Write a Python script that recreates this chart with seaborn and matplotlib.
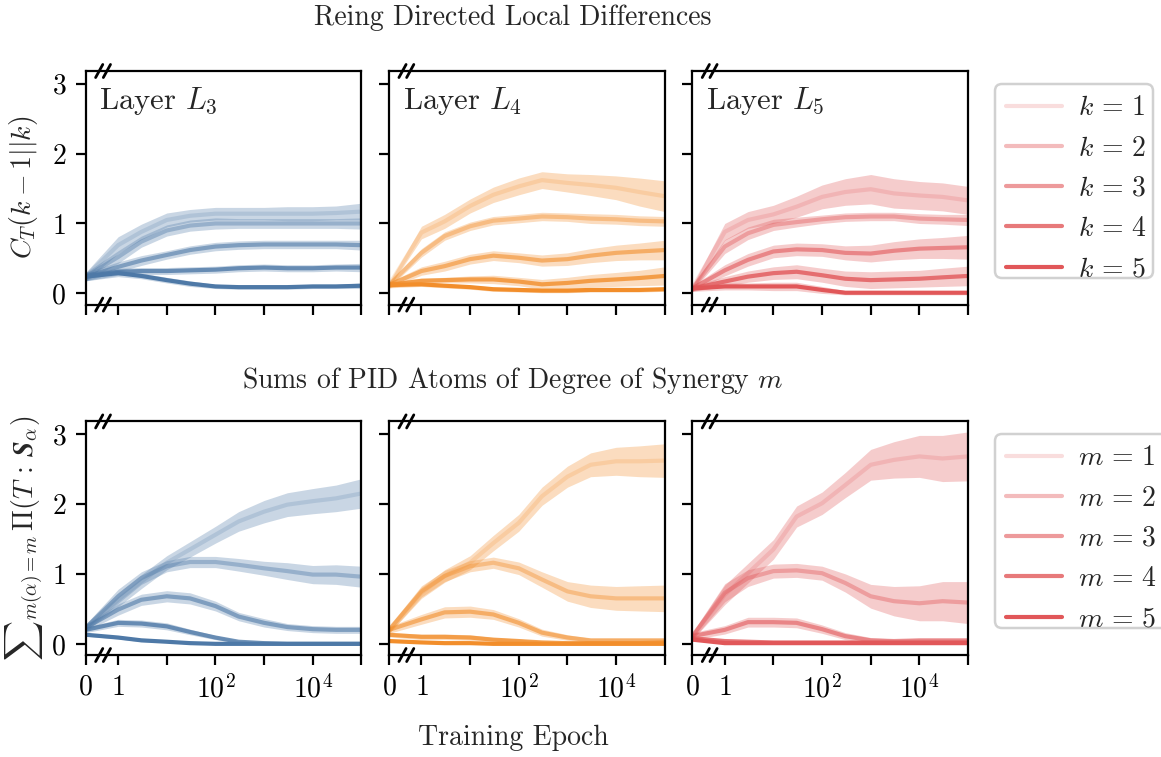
import numpy as np
import matplotlib
matplotlib.use("Agg")
import matplotlib.pyplot as plt
from matplotlib.lines import Line2D
from matplotlib.patches import FancyBboxPatch
import seaborn as sns

# --- DATA ---
EPOCHS = [0, 1, 3, 10, 30, 100, 300, 1000, 3000, 10000, 30000, 100000]
LAYERS = ["L_3", "L_4", "L_5"]
COLORS = ["#4e79a7", "#f28e2b", "#e15759"]
ALPHAS = [0.2, 0.4, 0.6, 0.8, 1.0]
X_TICKS = [0, 1, 10, 100, 1000, 10000, 100000]
X_TICK_LABELS = ["$0$", "$1$", "", "$10^2$", "", "$10^4$", ""]
Y_TICKS = [0, 1, 2, 3]

# top row: C_T(k-1||k), k = 1..5, per layer
reing_L3 = [
    [0.24, 0.69, 0.88, 1.05, 1.11, 1.14, 1.14, 1.14, 1.14, 1.14, 1.15, 1.17],
    [0.24, 0.52, 0.74, 0.90, 0.97, 1.00, 1.00, 1.00, 1.00, 1.00, 1.00, 1.00],
    [0.24, 0.38, 0.47, 0.55, 0.62, 0.67, 0.69, 0.70, 0.70, 0.70, 0.70, 0.69],
    [0.24, 0.31, 0.32, 0.32, 0.33, 0.34, 0.36, 0.37, 0.36, 0.36, 0.37, 0.37],
    [0.24, 0.29, 0.25, 0.19, 0.14, 0.10, 0.09, 0.09, 0.09, 0.10, 0.10, 0.11],
]
reing_L3_err = [
    [0.06, 0.12, 0.11, 0.10, 0.09, 0.09, 0.09, 0.09, 0.10, 0.10, 0.10, 0.12],
    [0.06, 0.09, 0.08, 0.08, 0.08, 0.08, 0.07, 0.07, 0.07, 0.07, 0.07, 0.08],
    [0.06, 0.07, 0.07, 0.06, 0.06, 0.06, 0.06, 0.06, 0.06, 0.06, 0.06, 0.07],
    [0.06, 0.05, 0.05, 0.05, 0.05, 0.05, 0.05, 0.05, 0.05, 0.05, 0.05, 0.06],
    [0.06, 0.05, 0.04, 0.04, 0.04, 0.03, 0.03, 0.03, 0.03, 0.03, 0.03, 0.04],
]
reing_L4 = [
    [0.12, 0.87, 1.03, 1.25, 1.41, 1.53, 1.62, 1.58, 1.55, 1.51, 1.45, 1.39],
    [0.12, 0.58, 0.82, 0.96, 1.04, 1.07, 1.10, 1.09, 1.07, 1.06, 1.04, 1.03],
    [0.12, 0.32, 0.39, 0.49, 0.54, 0.51, 0.47, 0.49, 0.54, 0.58, 0.60, 0.62],
    [0.12, 0.18, 0.19, 0.20, 0.20, 0.17, 0.13, 0.15, 0.18, 0.20, 0.22, 0.25],
    [0.12, 0.13, 0.11, 0.09, 0.06, 0.05, 0.04, 0.04, 0.05, 0.05, 0.05, 0.06],
]
reing_L4_err = [
    [0.04, 0.09, 0.10, 0.10, 0.11, 0.12, 0.12, 0.13, 0.15, 0.17, 0.20, 0.22],
    [0.04, 0.06, 0.06, 0.06, 0.06, 0.06, 0.06, 0.06, 0.07, 0.07, 0.07, 0.07],
    [0.04, 0.06, 0.07, 0.07, 0.07, 0.07, 0.08, 0.09, 0.10, 0.11, 0.12, 0.14],
    [0.04, 0.04, 0.04, 0.05, 0.06, 0.06, 0.07, 0.08, 0.09, 0.10, 0.11, 0.13],
    [0.04, 0.03, 0.03, 0.03, 0.03, 0.03, 0.03, 0.03, 0.03, 0.03, 0.03, 0.03],
]
reing_L5 = [
    [0.07, 0.88, 1.05, 1.13, 1.24, 1.38, 1.45, 1.49, 1.43, 1.40, 1.38, 1.33],
    [0.07, 0.67, 0.86, 0.98, 1.02, 1.06, 1.09, 1.10, 1.10, 1.07, 1.06, 1.05],
    [0.07, 0.33, 0.48, 0.60, 0.63, 0.62, 0.58, 0.57, 0.61, 0.64, 0.65, 0.66],
    [0.07, 0.17, 0.24, 0.29, 0.31, 0.26, 0.21, 0.19, 0.20, 0.21, 0.23, 0.25],
    [0.07, 0.10, 0.10, 0.10, 0.10, 0.05, 0.01, 0.01, 0.01, 0.01, 0.01, 0.01],
]
reing_L5_err = [
    [0.04, 0.12, 0.12, 0.13, 0.15, 0.17, 0.19, 0.21, 0.21, 0.20, 0.20, 0.20],
    [0.04, 0.10, 0.09, 0.08, 0.07, 0.06, 0.06, 0.06, 0.06, 0.07, 0.07, 0.08],
    [0.04, 0.08, 0.09, 0.09, 0.09, 0.09, 0.10, 0.12, 0.13, 0.14, 0.15, 0.17],
    [0.04, 0.07, 0.08, 0.09, 0.10, 0.10, 0.11, 0.12, 0.12, 0.12, 0.13, 0.14],
    [0.04, 0.05, 0.05, 0.06, 0.06, 0.05, 0.03, 0.03, 0.03, 0.03, 0.03, 0.03],
]

# bottom row: sums of PID atoms of degree of synergy m = 1..5
pid_L3 = [
    [0.23, 0.63, 0.89, 1.16, 1.35, 1.56, 1.75, 1.89, 1.99, 2.04, 2.08, 2.15],
    [0.23, 0.68, 0.94, 1.11, 1.17, 1.17, 1.13, 1.08, 1.04, 0.99, 0.99, 0.96],
    [0.23, 0.49, 0.63, 0.68, 0.65, 0.54, 0.39, 0.30, 0.24, 0.21, 0.20, 0.20],
    [0.20, 0.30, 0.29, 0.25, 0.17, 0.09, 0.03, 0.01, 0.00, 0.00, 0.00, 0.00],
    [0.13, 0.09, 0.05, 0.03, 0.01, 0.00, 0.00, 0.00, 0.00, 0.00, 0.00, 0.00],
]
pid_L3_err = [
    [0.05, 0.10, 0.10, 0.10, 0.11, 0.12, 0.14, 0.16, 0.17, 0.18, 0.19, 0.21],
    [0.05, 0.10, 0.09, 0.08, 0.08, 0.08, 0.09, 0.10, 0.12, 0.13, 0.14, 0.15],
    [0.05, 0.08, 0.08, 0.08, 0.08, 0.07, 0.06, 0.06, 0.05, 0.05, 0.05, 0.05],
    [0.04, 0.05, 0.05, 0.05, 0.04, 0.03, 0.02, 0.01, 0.01, 0.01, 0.01, 0.01],
    [0.02, 0.02, 0.02, 0.01, 0.01, 0.01, 0.01, 0.01, 0.01, 0.01, 0.01, 0.01],
]
pid_L4 = [
    [0.20, 0.73, 0.97, 1.16, 1.44, 1.73, 2.11, 2.39, 2.56, 2.61, 2.61, 2.62],
    [0.20, 0.75, 0.97, 1.11, 1.16, 1.08, 0.92, 0.75, 0.68, 0.65, 0.65, 0.65],
    [0.20, 0.35, 0.45, 0.46, 0.42, 0.30, 0.16, 0.09, 0.05, 0.05, 0.05, 0.05],
    [0.13, 0.10, 0.10, 0.09, 0.06, 0.04, 0.02, 0.01, 0.01, 0.01, 0.01, 0.02],
    [0.04, 0.02, 0.01, 0.01, 0.00, 0.00, 0.00, 0.00, 0.00, 0.00, 0.00, 0.00],
]
pid_L4_err = [
    [0.05, 0.08, 0.09, 0.10, 0.11, 0.12, 0.13, 0.15, 0.17, 0.20, 0.22, 0.24],
    [0.05, 0.08, 0.08, 0.08, 0.08, 0.09, 0.11, 0.14, 0.16, 0.17, 0.18, 0.19],
    [0.05, 0.07, 0.08, 0.08, 0.07, 0.06, 0.05, 0.04, 0.03, 0.03, 0.03, 0.03],
    [0.03, 0.04, 0.04, 0.04, 0.03, 0.03, 0.02, 0.02, 0.02, 0.02, 0.02, 0.02],
    [0.01, 0.01, 0.01, 0.01, 0.01, 0.01, 0.01, 0.01, 0.01, 0.01, 0.01, 0.01],
]
pid_L5 = [
    [0.11, 0.70, 1.01, 1.35, 1.82, 2.01, 2.27, 2.56, 2.63, 2.68, 2.65, 2.68],
    [0.11, 0.73, 0.94, 1.04, 1.05, 1.01, 0.87, 0.68, 0.61, 0.58, 0.61, 0.59],
    [0.11, 0.20, 0.31, 0.31, 0.30, 0.21, 0.11, 0.05, 0.04, 0.05, 0.05, 0.05],
    [0.08, 0.04, 0.03, 0.02, 0.02, 0.02, 0.02, 0.02, 0.02, 0.02, 0.02, 0.02],
    [0.06, 0.01, 0.01, 0.01, 0.01, 0.01, 0.01, 0.01, 0.01, 0.01, 0.01, 0.01],
]
pid_L5_err = [
    [0.05, 0.14, 0.14, 0.14, 0.15, 0.16, 0.18, 0.22, 0.26, 0.30, 0.33, 0.35],
    [0.05, 0.13, 0.12, 0.10, 0.10, 0.10, 0.13, 0.17, 0.21, 0.25, 0.28, 0.30],
    [0.05, 0.06, 0.07, 0.07, 0.07, 0.06, 0.05, 0.04, 0.03, 0.03, 0.03, 0.03],
    [0.02, 0.02, 0.02, 0.02, 0.02, 0.02, 0.02, 0.02, 0.02, 0.02, 0.02, 0.02],
    [0.01, 0.01, 0.01, 0.01, 0.01, 0.01, 0.01, 0.01, 0.01, 0.01, 0.01, 0.01],
]

TOP = [(reing_L3, reing_L3_err), (reing_L4, reing_L4_err), (reing_L5, reing_L5_err)]
BOTTOM = [(pid_L3, pid_L3_err), (pid_L4, pid_L4_err), (pid_L5, pid_L5_err)]

# --- STYLE ---
sns.set_style("ticks")
plt.rcParams["font.family"] = ["cmr10", "DejaVu Serif"]
plt.rcParams["mathtext.fontset"] = "cm"
plt.rcParams["axes.formatter.use_mathtext"] = True
plt.rcParams["font.size"] = 10
plt.rcParams["axes.edgecolor"] = "black"
plt.rcParams["xtick.color"] = "black"
plt.rcParams["ytick.color"] = "black"

W, H = 1161, 757


def draw_break(ax):
    """Little '//' marks on top and bottom spine between 0 and 1."""
    for y in (0.0, 1.0):
        for xc in (0.049, 0.077):
            ax.plot([xc - 0.013, xc + 0.013], [y - 0.028, y + 0.028],
                    color="black", lw=1.0, transform=ax.transAxes,
                    clip_on=False, zorder=10)


def draw_panel(ax, means, errs, color):
    x = np.array(EPOCHS, dtype=float)
    for mean, err, a in zip(means, errs, ALPHAS):
        mean = np.array(mean)
        err = np.array(err)
        ax.fill_between(x, mean - err, mean + err, color=color,
                        alpha=0.3, lw=0)
        sns.lineplot(x=x, y=mean, color=color, alpha=a, lw=1.5, ax=ax)
    ax.set_xscale("symlog", linthresh=1, linscale=0.6)
    ax.set_xlim(0, 1e5)
    ax.set_ylim(-0.16, 3.18)
    ax.set_xticks(X_TICKS)
    ax.xaxis.set_minor_locator(matplotlib.ticker.NullLocator())
    ax.set_yticks(Y_TICKS)
    for s in ax.spines.values():
        s.set_visible(True)
        s.set_linewidth(0.8)
    draw_break(ax)


fig, axes = plt.subplots(2, 3, figsize=(5.805, 3.785), dpi=200)
fig.subplots_adjust(left=0.0738, right=0.8338, top=0.9062, bottom=0.1347,
                    wspace=0.1, hspace=0.5)

for j in range(3):
    draw_panel(axes[0, j], *TOP[j], COLORS[j])
    draw_panel(axes[1, j], *BOTTOM[j], COLORS[j])
    axes[0, j].text(0.05, 0.94, f"Layer ${LAYERS[j]}$", transform=axes[0, j].transAxes,
                    ha="left", va="top", fontsize=11)
    axes[0, j].set_xticklabels([])
    axes[1, j].set_xticklabels(X_TICK_LABELS)
    if j > 0:
        axes[0, j].set_yticklabels([])
        axes[1, j].set_yticklabels([])
    else:
        axes[0, j].set_yticklabels([f"${t}$" for t in Y_TICKS])
        axes[1, j].set_yticklabels([f"${t}$" for t in Y_TICKS])

axes[0, 0].set_ylabel(r"$C_T(k-1||k)$", labelpad=4)
axes[1, 0].set_ylabel(r"$\sum{}_{m(\alpha)=m}\,\Pi(T\,:\,\boldsymbol{S}_\alpha)$",
                      labelpad=2)

fig.text(0.442, 0.976, "Reing Directed Local Differences", ha="center", va="center")
fig.text(0.442, 0.497, "Sums of PID Atoms of Degree of Synergy $m$",
         ha="center", va="center")
fig.text(0.442, 0.025, "Training Epoch", ha="center", va="center")

# legends: red shades with rising alpha, rounded frame drawn by hand
for sym, ytop, ybot, bw in (("k", 84, 278, 158), ("m", 434, 628, 180)):
    handles = [Line2D([], [], color=COLORS[2], alpha=a, lw=1.5) for a in ALPHAS]
    labels = [rf"${sym}\,=\,{i + 1}$" for i in range(5)]
    fig.legend(handles, labels, loc="upper left", frameon=False,
               handletextpad=0.6,
               bbox_to_anchor=(995 / W, 1 - ytop / H), borderaxespad=0)
    box = FancyBboxPatch((995 / W, 1 - ybot / H), bw / W, (ybot - ytop) / H,
                         boxstyle="round,pad=0,rounding_size=0.006",
                         mutation_aspect=W / H,
                         transform=fig.transFigure, facecolor="white",
                         edgecolor="0.82", lw=0.9, zorder=1)
    fig.add_artist(box)

plt.savefig("out.png", dpi=200)
